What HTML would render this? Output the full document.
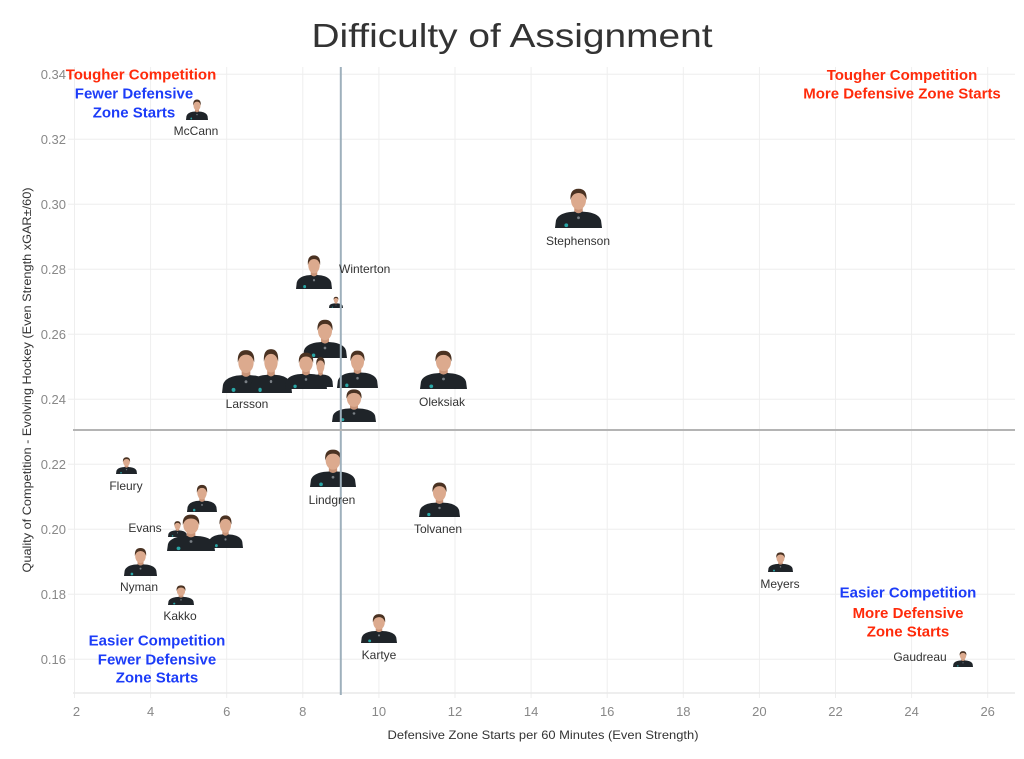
<!DOCTYPE html>
<html>
<head>
<meta charset="utf-8">
<style>
  html,body{margin:0;padding:0;background:#fff;}
  svg{display:block;}
  .tk{font-family:"Liberation Sans",sans-serif;font-size:13px;fill:#888;}
  .lb{font-family:"Liberation Sans",sans-serif;font-size:12px;fill:#333;}
  .an{font-family:"Liberation Sans",sans-serif;font-size:15px;font-weight:bold;}
  .r{fill:#ff2a0a;}
  .b{fill:#1c3cf8;}
</style>
</head>
<body>
<svg width="1024" height="759" viewBox="0 0 1024 759" xmlns="http://www.w3.org/2000/svg">
  <defs>
    <symbol id="p" viewBox="0 0 100 90" preserveAspectRatio="none">
      <rect x="41" y="44" width="18" height="16" fill="#c99478"/>
      <path d="M0 90 L2 74 Q6 60 30 56 L42 55 Q50 62 58 55 L70 56 Q94 60 98 74 L100 90 Z" fill="#1f2429"/>
      <circle cx="24" cy="84" r="4" fill="#2aa6a6"/>
      <circle cx="50" cy="68" r="3" fill="#7a8086"/>
      <ellipse cx="50" cy="30" rx="16" ry="21" fill="#dcaa8e"/>
      <path d="M33 30 Q31 6 50 6 Q69 6 67 30 Q63 15 50 15 Q37 15 33 30 Z" fill="#4a3222"/>
    </symbol>
  </defs>

  <!-- Title -->
  <text x="512" y="47" text-anchor="middle" font-family="Liberation Sans, sans-serif" font-size="33" fill="#333" textLength="401" lengthAdjust="spacingAndGlyphs">Difficulty of Assignment</text>

  <!-- gridlines -->
  <g stroke="#eeeeee" stroke-width="1">
    <line x1="74.5" y1="67" x2="74.5" y2="698"/>
    <line x1="150.6" y1="67" x2="150.6" y2="698"/>
    <line x1="226.7" y1="67" x2="226.7" y2="698"/>
    <line x1="302.8" y1="67" x2="302.8" y2="698"/>
    <line x1="378.9" y1="67" x2="378.9" y2="698"/>
    <line x1="455.0" y1="67" x2="455.0" y2="698"/>
    <line x1="531.1" y1="67" x2="531.1" y2="698"/>
    <line x1="607.2" y1="67" x2="607.2" y2="698"/>
    <line x1="683.3" y1="67" x2="683.3" y2="698"/>
    <line x1="759.4" y1="67" x2="759.4" y2="698"/>
    <line x1="835.5" y1="67" x2="835.5" y2="698"/>
    <line x1="911.6" y1="67" x2="911.6" y2="698"/>
    <line x1="987.7" y1="67" x2="987.7" y2="698"/>
    <line x1="68" y1="74.3" x2="1015" y2="74.3"/>
    <line x1="68" y1="139.3" x2="1015" y2="139.3"/>
    <line x1="68" y1="204.3" x2="1015" y2="204.3"/>
    <line x1="68" y1="269.3" x2="1015" y2="269.3"/>
    <line x1="68" y1="334.3" x2="1015" y2="334.3"/>
    <line x1="68" y1="399.3" x2="1015" y2="399.3"/>
    <line x1="68" y1="464.3" x2="1015" y2="464.3"/>
    <line x1="68" y1="529.3" x2="1015" y2="529.3"/>
    <line x1="68" y1="594.3" x2="1015" y2="594.3"/>
    <line x1="68" y1="659.3" x2="1015" y2="659.3"/>
  </g>
  <line x1="73" y1="693" x2="1015" y2="693" stroke="#e8e8e8" stroke-width="1.5"/>

  <!-- y ticks -->
  <g class="tk" text-anchor="end">
    <text x="66" y="78.8">0.34</text>
    <text x="66" y="143.8">0.32</text>
    <text x="66" y="208.8">0.30</text>
    <text x="66" y="273.8">0.28</text>
    <text x="66" y="338.8">0.26</text>
    <text x="66" y="403.8">0.24</text>
    <text x="66" y="468.8">0.22</text>
    <text x="66" y="533.8">0.20</text>
    <text x="66" y="598.8">0.18</text>
    <text x="66" y="663.8">0.16</text>
  </g>
  <!-- x ticks -->
  <g class="tk" text-anchor="middle">
    <text x="76.5" y="716">2</text>
    <text x="150.6" y="716">4</text>
    <text x="226.7" y="716">6</text>
    <text x="302.8" y="716">8</text>
    <text x="378.9" y="716">10</text>
    <text x="455.0" y="716">12</text>
    <text x="531.1" y="716">14</text>
    <text x="607.2" y="716">16</text>
    <text x="683.3" y="716">18</text>
    <text x="759.4" y="716">20</text>
    <text x="835.5" y="716">22</text>
    <text x="911.6" y="716">24</text>
    <text x="987.7" y="716">26</text>
  </g>

  <!-- axis titles -->
  <text x="543" y="739" text-anchor="middle" class="lb" textLength="311" lengthAdjust="spacingAndGlyphs">Defensive Zone Starts per 60 Minutes (Even Strength)</text>
  <text transform="translate(31,380) rotate(-90)" text-anchor="middle" class="lb" textLength="385" lengthAdjust="spacingAndGlyphs">Quality of Competition - Evolving Hockey (Even Strength xGAR±/60)</text>

  <!-- players -->
  <use href="#p" x="186" y="98" width="22" height="22"/>
  <use href="#p" x="555" y="186" width="47" height="42"/>
  <use href="#p" x="296" y="253" width="36" height="36"/>
  <use href="#p" x="329" y="296" width="14" height="12"/>
  <use href="#p" x="303" y="317" width="44" height="41"/>
  <use href="#p" x="308" y="355" width="25" height="32"/>
  <use href="#p" x="222" y="347" width="48" height="46"/>
  <use href="#p" x="250" y="346" width="42" height="47"/>
  <use href="#p" x="285" y="350" width="42" height="39"/>
  <use href="#p" x="337" y="348" width="41" height="40"/>
  <use href="#p" x="332" y="387" width="44" height="35"/>
  <use href="#p" x="420" y="348" width="47" height="41"/>
  <use href="#p" x="116" y="456" width="21" height="18"/>
  <use href="#p" x="310" y="447" width="46" height="40"/>
  <use href="#p" x="187" y="483" width="30" height="29"/>
  <use href="#p" x="168" y="520" width="19" height="17"/>
  <use href="#p" x="208" y="513" width="35" height="35"/>
  <use href="#p" x="167" y="512" width="48" height="39"/>
  <use href="#p" x="124" y="546" width="33" height="30"/>
  <use href="#p" x="168" y="584" width="26" height="21"/>
  <use href="#p" x="419" y="480" width="41" height="37"/>
  <use href="#p" x="361" y="612" width="36" height="31"/>
  <use href="#p" x="768" y="551" width="25" height="21"/>
  <use href="#p" x="953" y="650" width="20" height="17"/>

  <!-- reference lines -->
  <line x1="340.8" y1="67" x2="340.8" y2="695" stroke="#9eb0bc" stroke-width="2"/>
  <line x1="73" y1="430" x2="1015" y2="430" stroke="#b4b4b4" stroke-width="2"/>

  <!-- player labels -->
  <g class="lb" text-anchor="middle">
    <text x="196" y="135">McCann</text>
    <text x="578" y="245">Stephenson</text>
    <text x="247" y="408">Larsson</text>
    <text x="442" y="406">Oleksiak</text>
    <text x="126" y="490">Fleury</text>
    <text x="332" y="504">Lindgren</text>
    <text x="145" y="532">Evans</text>
    <text x="139" y="591">Nyman</text>
    <text x="180" y="620">Kakko</text>
    <text x="438" y="533">Tolvanen</text>
    <text x="379" y="659">Kartye</text>
    <text x="780" y="588">Meyers</text>
    <text x="920" y="661">Gaudreau</text>
  </g>
  <text x="339" y="273" class="lb">Winterton</text>

  <!-- quadrant annotations -->
  <g class="an" text-anchor="middle">
    <text x="141" y="79.5" class="r">Tougher Competition</text>
    <text x="134" y="98.5" class="b">Fewer Defensive</text>
    <text x="134" y="117.5" class="b">Zone Starts</text>

    <text x="902" y="80" class="r">Tougher Competition</text>
    <text x="902" y="98.5" class="r">More Defensive Zone Starts</text>

    <text x="157" y="645.5" class="b">Easier Competition</text>
    <text x="157" y="664.5" class="b">Fewer Defensive</text>
    <text x="157" y="682.5" class="b">Zone Starts</text>

    <text x="908" y="597.5" class="b">Easier Competition</text>
    <text x="908" y="618" class="r">More Defensive</text>
    <text x="908" y="636.5" class="r">Zone Starts</text>
  </g>
</svg>
</body>
</html>
